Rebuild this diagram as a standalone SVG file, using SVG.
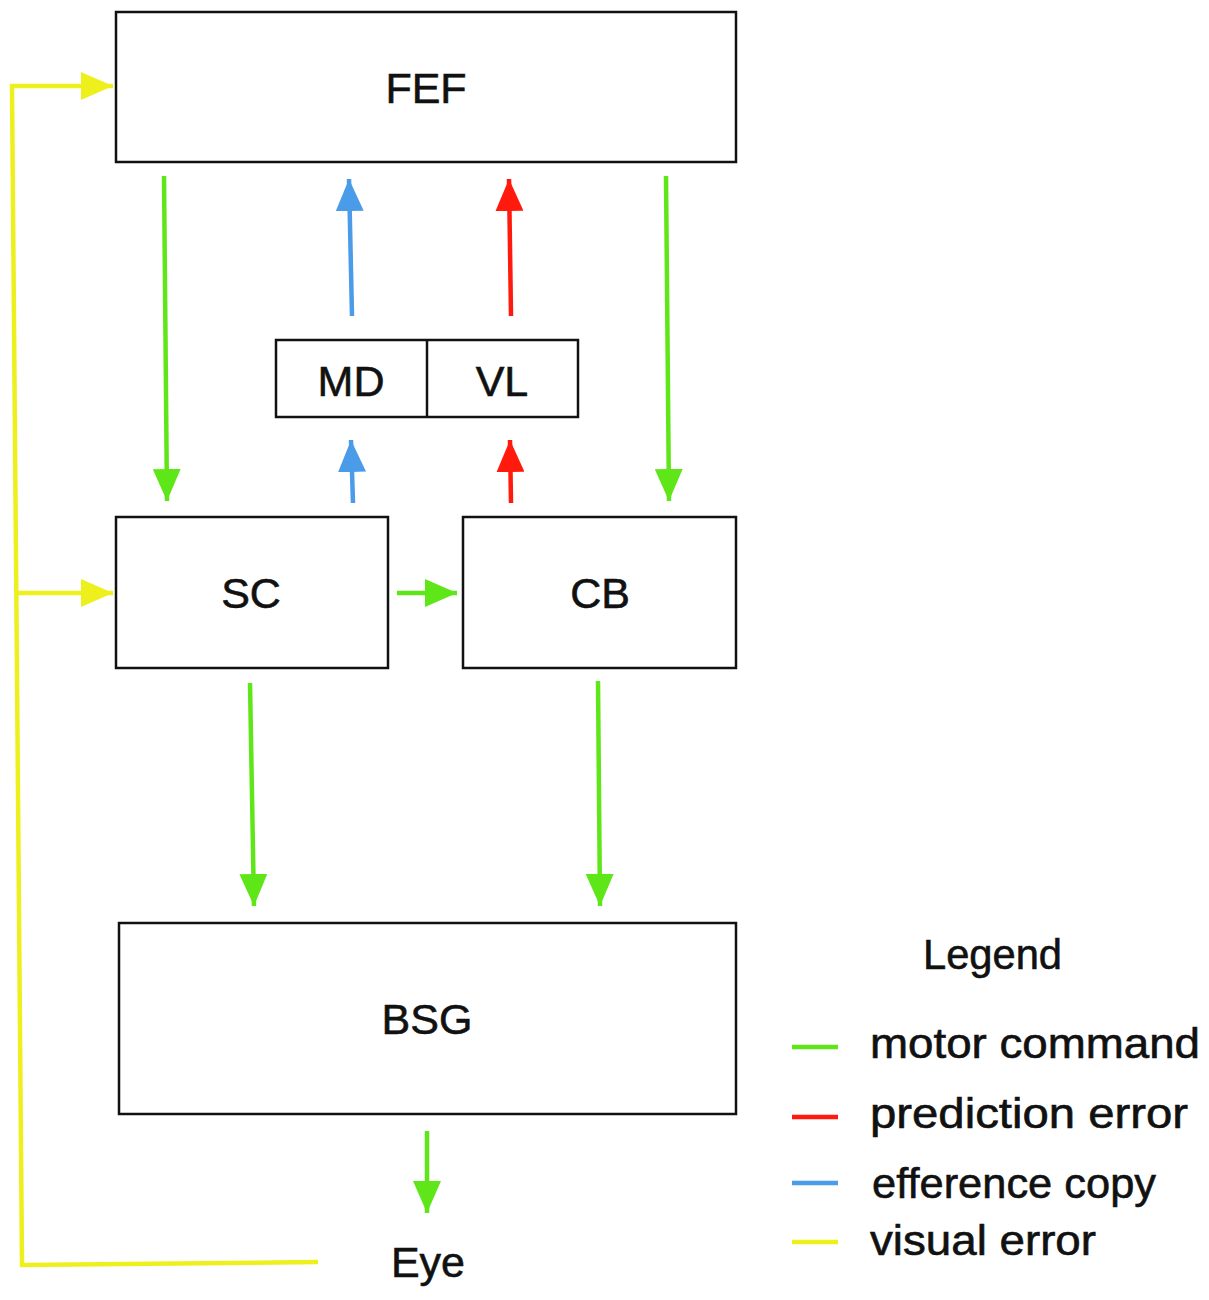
<svg xmlns="http://www.w3.org/2000/svg" width="1209" height="1300" viewBox="0 0 1209 1300">
<style>
.box{fill:#fff;stroke:#111;stroke-width:2.5}
.lbl{font-family:"Liberation Sans",Arial,sans-serif;font-size:43px;fill:#111;text-anchor:middle;stroke:#111;stroke-width:0.6}
.leg{font-family:"Liberation Sans",Arial,sans-serif;font-size:42px;fill:#111;stroke:#111;stroke-width:0.6}
.g{stroke:#5fe619;stroke-width:4.5;fill:none}
.r{stroke:#ff1a0d;stroke-width:4.5;fill:none}
.b{stroke:#4a9be8;stroke-width:4.5;fill:none}
.y{stroke:#eef01e;stroke-width:4.5;fill:none}
</style>
<defs>
<marker id="ag" markerUnits="userSpaceOnUse" markerWidth="34" markerHeight="28" refX="32" refY="14" orient="auto"><path d="M0,0 L32,14 L0,28 Z" fill="#5fe619"/></marker>
<marker id="ar" markerUnits="userSpaceOnUse" markerWidth="34" markerHeight="28" refX="32" refY="14" orient="auto"><path d="M0,0 L32,14 L0,28 Z" fill="#ff1a0d"/></marker>
<marker id="ab" markerUnits="userSpaceOnUse" markerWidth="34" markerHeight="28" refX="32" refY="14" orient="auto"><path d="M0,0 L32,14 L0,28 Z" fill="#4a9be8"/></marker>
<marker id="ay" markerUnits="userSpaceOnUse" markerWidth="34" markerHeight="28" refX="32" refY="14" orient="auto"><path d="M0,0 L32,14 L0,28 Z" fill="#eef01e"/></marker>
</defs>
<rect width="1209" height="1300" fill="#fff"/>
<g id="FEF"><rect class="box" x="116" y="12" width="620" height="150"/><text class="lbl" x="426" y="103">FEF</text></g>
<g id="MDVL"><rect class="box" x="276" y="340" width="302" height="77"/><line x1="427" y1="340" x2="427" y2="417" stroke="#111" stroke-width="2.5"/><text class="lbl" x="351" y="396">MD</text><text class="lbl" x="502" y="396">VL</text></g>
<g id="SC"><rect class="box" x="116" y="517" width="272" height="151"/><text class="lbl" x="251" y="608">SC</text></g>
<g id="CB"><rect class="box" x="463" y="517" width="273" height="151"/><text class="lbl" x="600" y="608">CB</text></g>
<g id="BSG"><rect class="box" x="119" y="923" width="617" height="191"/><text class="lbl" x="427" y="1034">BSG</text></g>
<g id="Eye"><text class="lbl" x="428" y="1277">Eye</text></g>
<g id="connectors">
<line class="g" x1="164" y1="176" x2="167" y2="501" marker-end="url(#ag)"/>
<line class="g" x1="666" y1="176" x2="669" y2="501" marker-end="url(#ag)"/>
<line class="b" x1="352" y1="316" x2="349" y2="179" marker-end="url(#ab)"/>
<line class="r" x1="511" y1="316" x2="509" y2="179" marker-end="url(#ar)"/>
<line class="b" x1="353" y1="503" x2="351" y2="440" marker-end="url(#ab)"/>
<line class="r" x1="511" y1="503" x2="510" y2="440" marker-end="url(#ar)"/>
<line class="g" x1="397" y1="593" x2="457" y2="593" marker-end="url(#ag)"/>
<line class="g" x1="250" y1="683" x2="254" y2="906" marker-end="url(#ag)"/>
<line class="g" x1="598" y1="681" x2="600" y2="906" marker-end="url(#ag)"/>
<line class="g" x1="427" y1="1131" x2="427" y2="1213" marker-end="url(#ag)"/>
<polyline class="y" points="318,1262 22,1265 12,86 113,86" marker-end="url(#ay)"/>
<line class="y" x1="15" y1="593" x2="113" y2="593" marker-end="url(#ay)"/>
</g>
<g id="legend">
<text class="leg" x="923" y="969" textLength="139" lengthAdjust="spacingAndGlyphs">Legend</text>
<line class="g" x1="792" y1="1047" x2="838" y2="1047"/>
<line class="r" x1="792" y1="1117" x2="838" y2="1117"/>
<line class="b" x1="792" y1="1183" x2="838" y2="1183"/>
<line class="y" x1="792" y1="1242" x2="838" y2="1242"/>
<text class="leg" x="870" y="1058" textLength="330" lengthAdjust="spacingAndGlyphs">motor command</text>
<text class="leg" x="870" y="1128" textLength="318" lengthAdjust="spacingAndGlyphs">prediction error</text>
<text class="leg" x="872" y="1198" textLength="284" lengthAdjust="spacingAndGlyphs">efference copy</text>
<text class="leg" x="870" y="1255" textLength="226" lengthAdjust="spacingAndGlyphs">visual error</text>
</g>
</svg>
